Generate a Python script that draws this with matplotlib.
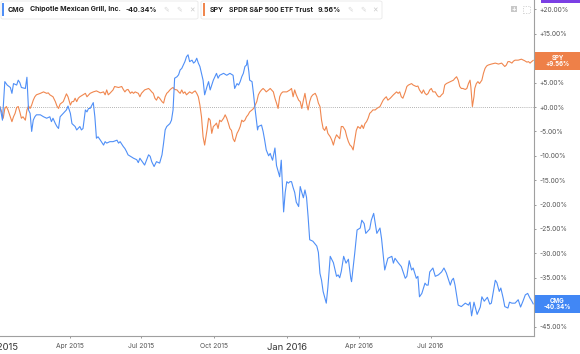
import matplotlib
matplotlib.use("Agg")
import matplotlib.pyplot as plt
import matplotlib.patches as mpatches
import pandas as pd

plt.rcParams['font.family'] = ['Inter', 'DejaVu Sans']

# day offsets from 2015-01-01 and % change since start
start = pd.Timestamp('2015-01-01')

cmg_day = [2, 5, 8, 11, 15, 17, 19, 23, 25, 27, 29, 34, 36, 38, 40, 42, 44, 46, 48, 53, 57, 61, 65, 67, 69, 72, 74,
           76, 78, 82, 86, 88, 91, 93, 97, 99, 103, 105, 107, 110, 112, 114, 116, 120, 122, 124, 126, 129, 133, 135,
           137, 141, 145, 150, 152, 154, 158, 160, 162, 164, 167, 171, 175, 177, 179, 185, 190, 192, 194, 197, 200,
           204, 207, 209, 211, 213, 215, 217, 219, 221, 223, 226, 228, 230, 232, 236, 238, 240, 242, 245, 247, 249,
           251, 253, 255, 257, 259, 261, 264, 266, 268, 270, 272, 274, 276, 278, 280, 285, 289, 293, 297, 299, 302,
           304, 306, 308, 310, 312, 314, 315, 317, 318, 321, 323, 325, 328, 329, 333, 335, 337, 339, 342, 344, 346,
           347, 350, 352, 356, 358, 361, 363, 365, 367, 369, 371, 373, 375, 377, 380, 382, 384, 386, 388, 390, 392,
           394, 398, 403, 405, 407, 409, 411, 413, 415, 417, 420, 424, 428, 430, 432, 434, 437, 440, 443, 446, 447,
           451, 454, 458, 460, 463, 465, 470, 472, 475, 479, 483, 485, 489, 493, 498, 500, 502, 506, 510, 515, 517,
           520, 523, 525, 529, 531, 533, 536, 540, 542, 544, 546, 550, 553, 557, 561, 564, 567, 572, 574, 576, 578,
           582, 586, 591, 595, 597, 599, 602, 606, 610, 612, 615, 619, 622, 624, 629, 631, 634, 636, 639, 641, 645,
           647, 650, 654, 658, 661, 664, 667, 670, 673, 675, 677]
cmg_pct = [0.0, -2.7, 5.2, 4.5, 4.0, 2.8, 4.8, 4.5, 5.5, 5.0, 4.0, 3.8, 6.1, -0.6, -1.3, -5.0, -2.7, -2.0, -1.6, -1.6,
           -2.0, -2.3, -2.0, -3.0, -2.3, -3.4, -4.0, -4.4, -2.0, -1.3, -0.6, 0.2, -1.3, -3.4, -4.0, -4.7, -4.0, -4.7,
           -4.4, -0.6, -1.0, -0.3, -0.3, 0.9, -2.0, -6.4, -6.1, -6.8, -7.8, -7.1, -7.4, -7.1, -7.1, -6.8, -7.4, -7.1,
           -8.1, -8.5, -9.1, -9.8, -10.1, -10.5, -10.8, -11.4, -10.5, -11.9, -9.8, -10.1, -11.2, -12.2, -11.2, -11.5,
           -9.8, -7.4, -4.7, -4.0, -3.7, -3.4, -2.7, -0.6, 5.9, 6.2, 6.6, 7.6, 7.9, 9.3, 10.3, 10.7, 9.3, 9.6, 9.0,
           9.3, 10.0, 9.0, 8.3, 6.9, 5.5, 2.5, 4.2, 5.2, 3.5, 4.5, 5.5, 6.2, 6.9, 5.9, 6.5, 6.9, 6.5, 6.9, 6.5, 3.8,
           4.8, 4.5, 5.2, 6.2, 6.9, 8.3, 8.6, 9.6, 7.2, 5.5, 5.2, 2.5, -0.6, -4.7, -4.0, -3.7, -5.0, -6.8, -8.8,
           -10.0, -9.5, -10.5, -10.9, -8.4, -12.0, -14.3, -10.9, -21.5, -17.5, -15.3, -15.6, -15.3, -15.3, -16.5,
           -17.5, -19.5, -20.4, -16.3, -17.5, -18.6, -17.0, -18.5, -22.5, -27.2, -27.5, -28.5, -29.8, -34.1, -35.5,
           -37.8, -39.0, -40.2, -37.0, -30.6, -31.9, -34.7, -34.4, -35.0, -33.7, -30.6, -32.0, -31.2, -35.1, -35.8,
           -30.0, -25.2, -24.8, -23.2, -23.9, -25.9, -25.0, -23.2, -21.8, -25.9, -24.8, -27.0, -33.4, -31.0, -30.6,
           -32.0, -31.0, -31.9, -32.7, -35.1, -34.7, -31.5, -33.4, -33.0, -35.1, -34.7, -38.9, -38.2, -36.1, -36.5,
           -36.5, -33.8, -33.0, -34.7, -34.4, -33.8, -33.0, -34.0, -36.5, -35.5, -35.1, -36.5, -40.6, -40.9, -40.2,
           -40.6, -40.0, -42.8, -40.0, -42.5, -41.0, -38.9, -39.8, -39.0, -40.4, -40.2, -35.5, -36.0, -37.8, -37.1,
           -39.2, -40.9, -41.2, -40.0, -40.2, -40.2, -39.5, -41.0, -39.8, -38.5, -38.2, -39.2, -39.7, -40.34]

spy_day = [2, 4, 6, 8, 10, 12, 17, 19, 21, 23, 25, 27, 29, 31, 34, 36, 38, 40, 42, 44, 46, 48, 53, 57, 61, 63, 65,
           69, 72, 74, 76, 78, 82, 86, 88, 91, 93, 95, 97, 99, 101, 103, 107, 110, 112, 116, 120, 124, 129, 133, 135,
           137, 139, 141, 145, 147, 152, 156, 158, 160, 162, 164, 167, 169, 171, 173, 177, 179, 181, 185, 190, 192,
           194, 196, 198, 200, 202, 204, 207, 209, 211, 213, 215, 217, 219, 221, 223, 226, 228, 230, 232, 234, 236,
           238, 240, 242, 245, 247, 249, 251, 253, 255, 257, 259, 261, 264, 266, 268, 270, 272, 274, 276, 278, 280,
           282, 285, 287, 289, 291, 293, 295, 297, 299, 302, 304, 306, 308, 310, 312, 314, 316, 318, 321, 323, 325,
           327, 329, 331, 333, 335, 337, 339, 342, 344, 348, 350, 352, 354, 356, 358, 360, 365, 369, 371, 373, 375,
           377, 380, 382, 384, 386, 388, 390, 392, 394, 396, 398, 401, 403, 405, 407, 409, 411, 413, 415, 417, 420,
           422, 424, 426, 428, 430, 432, 434, 436, 439, 441, 443, 445, 447, 449, 451, 453, 455, 458, 460, 462, 464,
           466, 468, 470, 472, 474, 477, 479, 483, 487, 489, 491, 493, 496, 500, 502, 504, 506, 508, 510, 512, 515,
           517, 519, 523, 525, 529, 531, 533, 536, 538, 540, 542, 544, 546, 548, 550, 553, 555, 557, 559, 561, 563,
           565, 567, 572, 576, 578, 580, 582, 584, 586, 588, 591, 593, 595, 597, 598, 599, 600, 602, 603, 605, 607,
           609, 612, 614, 616, 618, 620, 624, 629, 633, 637, 641, 643, 645, 647, 650, 652, 654, 658, 662, 666, 669,
           671, 673, 675, 677]
spy_pct = [0.0, -1.0, -2.3, -0.3, 0.1, -0.6, -3.0, -2.0, -1.3, -0.1, 0.1, -1.0, -2.3, -2.0, -2.7, -0.6, 0.2, -0.3,
           0.4, 1.4, 2.1, 2.5, 2.8, 3.1, 2.8, 2.9, 2.5, 2.1, 1.1, 0.2, -0.3, 0.6, 1.1, 2.7, 2.1, 0.4, 1.1, 1.1, 1.8,
           1.1, 1.8, 2.1, 2.5, 2.8, 2.1, 2.8, 3.1, 3.3, 2.9, 3.1, 2.5, 3.5, 2.5, 2.8, 3.5, 4.2, 4.0, 4.2, 3.6, 3.1,
           3.5, 3.6, 2.8, 3.1, 2.8, 3.1, 2.8, 2.1, 2.8, 3.5, 3.8, 3.5, 3.1, 2.8, 1.8, 1.4, 2.1, 1.8, 1.1, 0.8, 2.1,
           2.8, 3.1, 3.5, 3.8, 4.0, 3.6, 3.5, 3.1, 2.8, 3.5, 2.8, 3.1, 2.5, 2.8, 3.1, 2.8, 3.1, 3.3, 2.8, 2.1, 0.4,
           -2.0, -6.1, -7.8, -4.7, -2.3, -2.7, -5.4, -4.0, -3.7, -3.3, -4.4, -2.7, -3.0, -2.3, -1.6, -2.3, -3.3,
           -4.4, -4.8, -6.5, -7.1, -5.4, -4.8, -4.0, -2.7, -3.0, -2.7, -2.0, -1.6, -1.0, -0.6, -0.3, 0.4, 1.1, 2.5,
           3.1, 3.5, 3.8, 3.5, 3.1, 3.5, 3.8, 3.1, 1.8, 0.8, -0.3, 2.1, 2.8, 3.1, 3.1, 3.5, 3.8, 2.1, 3.5, 2.5, 1.4,
           1.1, -0.3, 1.4, 2.8, 0.8, -0.6, 1.1, 2.1, 2.5, 2.8, 2.1, 0.8, 0.1, -2.7, -4.4, -4.8, -4.0, -5.4, -6.1,
           -6.8, -7.8, -6.5, -5.7, -6.1, -6.5, -4.0, -4.0, -4.8, -6.1, -7.1, -7.8, -8.1, -8.8, -6.8, -4.8, -4.0,
           -4.4, -3.7, -4.4, -3.4, -3.0, -2.3, -1.3, -1.0, -0.6, -0.6, -0.3, 0.1, 1.4, 1.8, 2.1, 1.4, 1.8, 2.5, 2.8,
           3.1, 2.8, 3.1, 2.1, 1.8, 3.1, 4.2, 4.5, 4.8, 4.5, 4.2, 4.3, 3.5, 2.8, 3.5, 2.8, 2.5, 2.8, 3.5, 3.8, 3.1,
           3.1, 2.5, 2.1, 2.1, 2.5, 2.8, 4.5, 4.8, 5.2, 5.5, 5.9, 6.2, 5.5, 4.2, 3.8, 3.8, 3.6, 3.8, 4.8, 5.5, 4.2,
           2.1, 0.1, 2.1, 3.8, 4.8, 5.2, 4.8, 5.5, 6.9, 7.9, 8.4, 8.6, 8.8, 9.0, 8.8, 9.0, 8.3, 8.6, 9.3, 9.3, 9.0,
           9.4, 9.6, 9.6, 9.8, 9.5, 9.2, 9.3, 9.0, 9.3, 9.56]

tick_dates = ['2015-01-01', '2015-04-01', '2015-07-01', '2015-10-01', '2016-01-01', '2016-04-01', '2016-07-01']
tick_labels = ['Jan 2015', 'Apr 2015', 'Jul 2015', 'Oct 2015', 'Jan 2016', 'Apr 2016', 'Jul 2016']
y_ticks = [20, 15, 10, 5, 0, -5, -10, -15, -20, -25, -30, -35, -40, -45]
hidden_ticks = [10, -40]  # covered by the last-value tags

blue = '#4f8ff7'
orange = '#f0874f'
W, H = 580, 354

cmg_dates = start + pd.to_timedelta(cmg_day, unit='D')
spy_dates = start + pd.to_timedelta(spy_day, unit='D')

fig = plt.figure(figsize=(W / 100, H / 100), dpi=100)
ax = fig.add_axes([-1.5 / W, 18 / H, 535.5 / W, 336 / H])

ax.plot(spy_dates, spy_pct, color=orange, lw=0.8)
ax.plot(cmg_dates, cmg_pct, color=blue, lw=0.8)
ax.axhline(0, color='#9a9a9a', lw=0.6, ls=(0, (1, 1.5)), zorder=0)

ax.set_xlim(start, start + pd.Timedelta(days=678))
ax.set_ylim(-46.93, 21.93)

for s in ['top', 'left']:
    ax.spines[s].set_visible(False)
ax.spines['right'].set_color('#a0a0a0')
ax.spines['bottom'].set_color('#a0a0a0')
ax.spines['right'].set_linewidth(0.8)
ax.spines['bottom'].set_linewidth(0.8)

ax.yaxis.tick_right()
ax.set_yticks(y_ticks)
ax.set_yticklabels(['' if v in hidden_ticks else ('+' if v >= 0 else '') + '%.2f%%' % v for v in y_ticks])
ax.tick_params(axis='y', length=1.5, width=0.6, color='#888888', pad=2.5, labelsize=4.8, labelcolor='#555555')

ax.set_xticks(pd.to_datetime(tick_dates))
ax.set_xticklabels(tick_labels)
ax.tick_params(axis='x', length=1.5, width=0.6, color='#888888', pad=3.5, labelsize=4.8, labelcolor='#555555')
for lab in ax.get_xticklabels():
    if lab.get_text().startswith('Jan'):
        lab.set_fontsize(6.8)
        lab.set_color('#333333')


def px(x, y):
    return x / W, 1 - y / H


def box(x0, y0, x1, y1, color, round_=False, ec='none', lw=0):
    bx, by = px(x0, y1)
    style = 'round,pad=0,rounding_size=0.004' if round_ else 'square,pad=0'
    p = mpatches.FancyBboxPatch((bx, by), (x1 - x0) / W, (y1 - y0) / H, boxstyle=style,
                                transform=fig.transFigure, facecolor=color, edgecolor=ec, lw=lw, zorder=5)
    fig.patches.append(p)


def txt(x, y, s, size=5, color='#222222', weight='normal', ha='left'):
    fig.text(*px(x, y), s, fontsize=size, color=color, fontweight=weight, ha=ha, va='center',
             linespacing=1.05, zorder=6)


# legend chips on top
box(1, 1, 198, 19, 'white', True, '#e8e8e8', 0.6)
box(2, 3, 4, 16, blue)
txt(8, 9.5, 'CMG', 5, weight='bold')
txt(30, 9.5, 'Chipotle Mexican Grill, Inc.', 5, weight='bold')
txt(126, 9.5, '-40.34%', 5, weight='bold')
txt(163, 9.5, '✎', 5, color='#d6d6d6')
txt(176, 9.5, '✎', 5, color='#d6d6d6')
txt(189, 9.5, '×', 6, color='#cccccc')

box(201, 1, 382, 19, 'white', True, '#e8e8e8', 0.6)
box(203, 3, 205, 16, orange)
txt(210, 9.5, 'SPY', 5, weight='bold')
txt(229, 9.5, 'SPDR S&P 500 ETF Trust', 5, weight='bold')
txt(318, 9.5, '9.56%', 5, weight='bold')
txt(347, 9.5, '✎', 5, color='#d6d6d6')
txt(360, 9.5, '✎', 5, color='#d6d6d6')
txt(372, 9.5, '×', 6, color='#cccccc')

# top right controls
box(511, 6, 517, 12, '#c8c8c8')
txt(514, 9, '+', 5, color='white', weight='bold', ha='center')
fig.patches.append(mpatches.Rectangle(px(523, 13), 7 / W, 7 / H, transform=fig.transFigure,
                                      facecolor='none', edgecolor='#cfcfcf', lw=0.6, ls=(0, (1.5, 1.5))))
box(541, 0, 580, 3, '#7b3fe4')

# last value tags
box(535, 52, 580, 70, '#ee8048')
txt(557.5, 61, 'SPY\n+9.56%', 4.4, color='white', weight='bold', ha='center')
box(535, 295, 580, 313, '#4187f5')
txt(557.5, 304, 'CMG\n-40.34%', 4.4, color='white', weight='bold', ha='center')

fig.savefig('out.png', dpi=100)
